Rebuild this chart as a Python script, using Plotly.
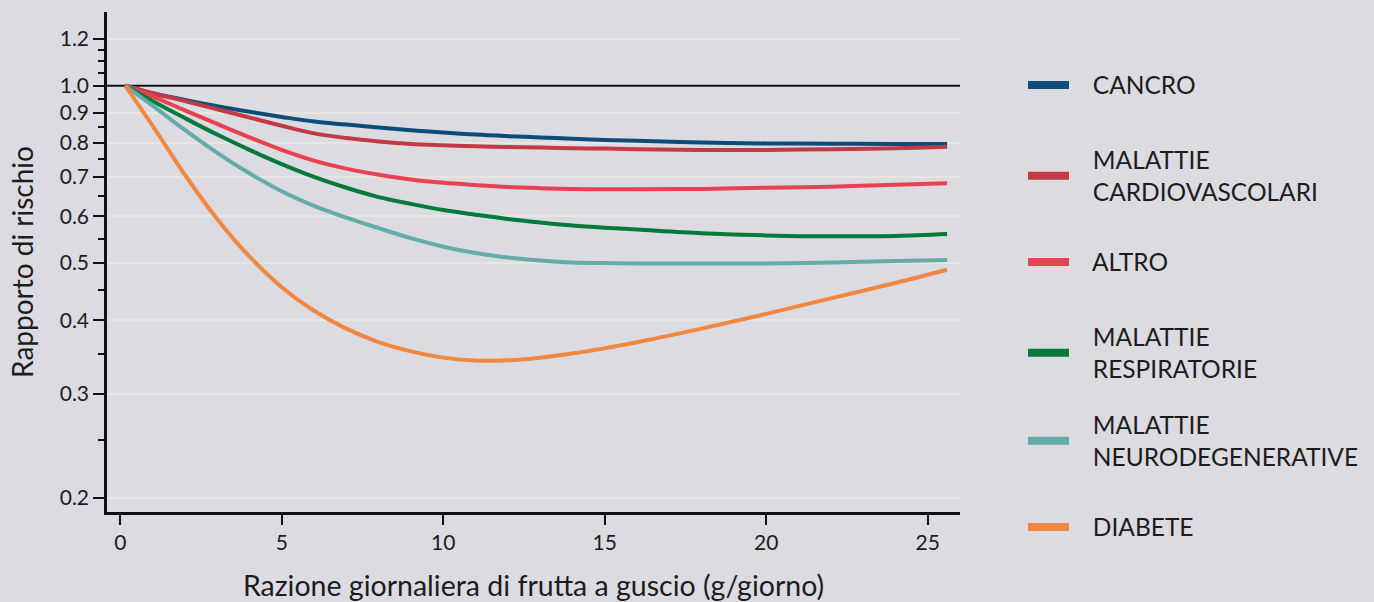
import plotly.graph_objects as go

# ---- data ----
x_vals = [0.15, 1, 2, 3, 4, 5, 6, 7, 8, 9, 10, 11, 12, 13, 14, 15, 16, 18, 20, 22, 24, 25.6]

cancro = [1.0, 0.971, 0.946, 0.923, 0.903, 0.885, 0.869, 0.859, 0.849, 0.840, 0.833, 0.826, 0.821,
          0.817, 0.813, 0.809, 0.806, 0.801, 0.798, 0.797, 0.796, 0.796]
cardio = [1.0, 0.971, 0.942, 0.912, 0.883, 0.855, 0.830, 0.815, 0.804, 0.796, 0.792, 0.789, 0.787,
          0.785, 0.783, 0.782, 0.780, 0.778, 0.778, 0.780, 0.783, 0.788]
altro = [1.0, 0.959, 0.908, 0.861, 0.817, 0.778, 0.746, 0.723, 0.706, 0.693, 0.684, 0.678, 0.673,
         0.670, 0.668, 0.667, 0.667, 0.668, 0.671, 0.674, 0.679, 0.683]
respir = [1.0, 0.942, 0.881, 0.826, 0.778, 0.736, 0.700, 0.671, 0.647, 0.630, 0.615, 0.604, 0.594,
          0.586, 0.579, 0.574, 0.570, 0.562, 0.557, 0.555, 0.556, 0.560]
neuro = [1.0, 0.925, 0.841, 0.769, 0.710, 0.662, 0.625, 0.597, 0.573, 0.551, 0.533, 0.520, 0.511,
         0.505, 0.501, 0.500, 0.499, 0.499, 0.499, 0.501, 0.504, 0.506]
diabete = [1.0, 0.855, 0.706, 0.594, 0.513, 0.455, 0.415, 0.3870, 0.3670, 0.3540, 0.3455, 0.3415,
           0.3420, 0.3455, 0.3510, 0.3585, 0.3670, 0.3870, 0.4100, 0.4355, 0.4624, 0.4870]

series_names = ["CANCRO", "MALATTIE<br>CARDIOVASCOLARI", "ALTRO",
                "MALATTIE<br>RESPIRATORIE", "MALATTIE<br>NEURODEGENERATIVE", "DIABETE"]
series_vals = [cancro, cardio, altro, respir, neuro, diabete]
colors = ["#0c4c78", "#c23a44", "#e8414f", "#007a3c", "#64aca8", "#f08841"]

x_ticks = [0, 5, 10, 15, 20, 25]
y_ticks = [0.2, 0.3, 0.4, 0.5, 0.6, 0.7, 0.8, 0.9, 1.0, 1.2]
y_ticktext = ["0.2", "0.3", "0.4", "0.5", "0.6", "0.7", "0.8", "0.9", "1.0", "1.2"]
y_minor = [0.25, 0.35, 0.45, 0.55, 0.65, 0.75, 0.85, 0.95, 1.05, 1.1, 1.15]
x_range = [-0.41, 26.0]
ref_level = [1.0, 1.0]

FONT = "Lato"
TXT = "#1c1c1c"
BG = "#dcdbe1"
PAD = "\u00a0" * 3

fig = go.Figure()

# reference line at RR = 1
fig.add_trace(go.Scatter(x=x_range, y=ref_level, mode="lines",
                         line=dict(color="#111111", width=2),
                         showlegend=False, hoverinfo="skip"))

legend_ids = ["legend", "legend2", "legend3", "legend4", "legend5", "legend6"]
for name, vals, col in zip(series_names, series_vals, colors):
    fig.add_trace(go.Scatter(x=x_vals, y=vals, mode="lines",
                             line=dict(color=col, width=4, shape="spline", smoothing=1.0),
                             name=name.replace("<br>", " "), showlegend=False))
for name, col, lid in zip(series_names, colors, legend_ids):
    label = PAD + name.replace("<br>", "<br>" + PAD)
    fig.add_trace(go.Scatter(x=[None], y=[None], mode="lines",
                             line=dict(color=col, width=8),
                             name=label, showlegend=True, legend=lid))

# legend positions (pixel centre of each entry)
plot_l, plot_r, plot_t, plot_b = 107, 960, 12, 512
legend_py = [85, 176, 262, 353, 441, 527]
layout_legends = {}
for lid, py in zip(legend_ids, legend_py):
    layout_legends[lid] = dict(
        x=(1023 - plot_l) / (plot_r - plot_l),
        y=(plot_b - py) / (plot_b - plot_t),
        xanchor="left", yanchor="middle",
        bgcolor="rgba(0,0,0,0)", borderwidth=0,
        font=dict(family=FONT, size=24.5, color=TXT),
        itemwidth=41,
    )

fig.update_layout(
    width=1374, height=602,
    paper_bgcolor=BG, plot_bgcolor=BG,
    margin=dict(l=plot_l, r=1374 - plot_r, t=plot_t, b=602 - plot_b, autoexpand=False),
    font=dict(family=FONT, size=21, color=TXT),
    **layout_legends,
)

fig.update_xaxes(
    range=x_range, tickvals=x_ticks, ticks="outside", ticklen=10, tickwidth=2,
    tickcolor="#111111", showline=True, linecolor="#111111", linewidth=2.5,
    showgrid=False, zeroline=False, automargin=False,
    tickfont=dict(family=FONT, size=21, color=TXT),
    title=dict(text="Razione giornaliera di frutta a guscio (g/giorno)",
               font=dict(family=FONT, size=28.5, color=TXT), standoff=25),
)
fig.update_yaxes(
    type="log", range=[-0.7235, 0.125],
    tickvals=y_ticks, ticktext=y_ticktext, ticks="outside", ticklen=11, tickwidth=2,
    tickcolor="#111111", showline=True, linecolor="#111111", linewidth=2.5,
    showgrid=True, gridcolor="rgba(240,238,226,0.55)", gridwidth=1.5,
    zeroline=False, automargin=False,
    minor=dict(tickvals=y_minor, ticks="outside", ticklen=6, tickwidth=2,
               tickcolor="#111111", showgrid=False),
    tickfont=dict(family=FONT, size=21, color=TXT),
    title=dict(text="Rapporto di rischio",
               font=dict(family=FONT, size=28, color=TXT), standoff=18),
)

fig.write_html("out.html",
               config={"displayModeBar": False},
               post_script="document.body.style.margin='0px';document.body.style.background='" + BG + "';")
